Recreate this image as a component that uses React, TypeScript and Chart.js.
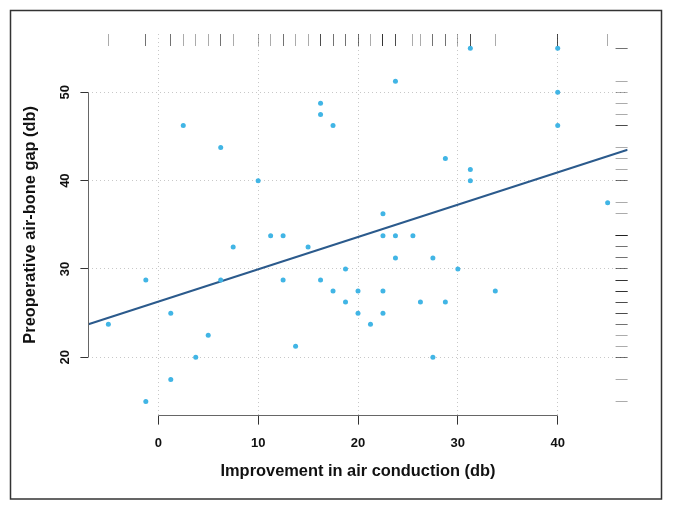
import React, { useEffect, useRef } from "react";
import { Chart, registerables } from "chart.js";

Chart.register(...registerables);

// Data
const improvement = [
  -5, -1.25, -1.25, 1.25, 1.25, 2.5, 3.75, 5, 6.25, 6.25, 7.5, 10, 11.25, 12.5, 12.5, 13.75, 15,
  16.25, 16.25, 16.25, 17.5, 17.5, 18.75, 18.75, 20, 20, 21.25, 22.5, 22.5, 22.5, 22.5, 23.75,
  23.75, 23.75, 25.5, 26.25, 27.5, 27.5, 28.75, 28.75, 30, 31.25, 31.25, 31.25, 33.75, 40, 40,
  40, 45,
];
const preopGap = [
  23.75, 28.75, 15, 25, 17.5, 46.25, 20, 22.5, 43.75, 28.75, 32.5, 40, 33.75, 33.75, 28.75, 21.25,
  32.5, 48.75, 47.5, 28.75, 46.25, 27.5, 30, 26.25, 27.5, 25, 23.75, 36.25, 33.75, 27.5, 25, 51.25,
  33.75, 31.25, 33.75, 26.25, 31.25, 20, 42.5, 26.25, 30, 41.25, 40, 55, 27.5, 55, 50, 46.25, 37.5,
];
const xTickValues = [0, 10, 20, 30, 40];
const yTickValues = [20, 30, 40, 50];
const xRange = [-7, 47];
const yRange = [13.4, 56.6];
const fitIntercept = 26.31;
const fitSlope = 0.3657;
const xTitle = "Improvement in air conduction (db)";
const yTitle = "Preoperative air-bone gap (db)";

const FONT = "'Liberation Sans', Arial, Helvetica, sans-serif";

const alignPx = (v: number) => Math.round(v - 0.5) + 0.5;

const framePlugin = {
  id: "frame",
  beforeDraw(chart: any) {
    const ctx = chart.ctx;
    ctx.save();
    ctx.fillStyle = "#ffffff";
    ctx.fillRect(0, 0, chart.width, chart.height);
    ctx.strokeStyle = "#333333";
    ctx.lineWidth = 1.5;
    ctx.strokeRect(10.5, 10.5, 651, 488.5);
    ctx.restore();
  },
};

const axesRugPlugin = {
  id: "axesRug",
  afterDatasetsDraw(chart: any) {
    const ctx = chart.ctx;
    const xs = chart.scales.x;
    const ys = chart.scales.y;
    const area = chart.chartArea;
    ctx.save();
    // R-style axis lines spanning first to last tick
    ctx.strokeStyle = "#666666";
    ctx.lineWidth = 1;
    const by = alignPx(area.bottom);
    ctx.beginPath();
    ctx.moveTo(xs.getPixelForValue(xTickValues[0]), by);
    ctx.lineTo(xs.getPixelForValue(xTickValues[xTickValues.length - 1]), by);
    ctx.stroke();
    const lx = alignPx(area.left);
    ctx.beginPath();
    ctx.moveTo(lx, ys.getPixelForValue(yTickValues[0]));
    ctx.lineTo(lx, ys.getPixelForValue(yTickValues[yTickValues.length - 1]));
    ctx.stroke();
    // rugs
    ctx.strokeStyle = "rgba(0,0,0,0.33)";
    ctx.lineWidth = 1;
    const rugLen = 12;
    improvement.forEach((v) => {
      const px = alignPx(xs.getPixelForValue(v));
      ctx.beginPath();
      ctx.moveTo(px, area.top);
      ctx.lineTo(px, area.top + rugLen);
      ctx.stroke();
    });
    preopGap.forEach((v) => {
      const py = alignPx(ys.getPixelForValue(v));
      ctx.beginPath();
      ctx.moveTo(area.right - rugLen, py);
      ctx.lineTo(area.right, py);
      ctx.stroke();
    });
    ctx.restore();
  },
};

export default function App() {
  const canvasRef = useRef<HTMLCanvasElement | null>(null);

  useEffect(() => {
    if (!canvasRef.current) return;
    const points = improvement.map((x, i) => ({ x, y: preopGap[i] }));
    const fitLine = xRange.map((x) => ({ x, y: fitIntercept + fitSlope * x }));
    const chart = new Chart(canvasRef.current, {
      type: "scatter",
      data: {
        datasets: [
          {
            type: "line",
            data: fitLine,
            borderColor: "#2b5a8c",
            borderWidth: 2,
            pointRadius: 0,
            fill: false,
            order: 1,
          } as any,
          {
            data: points,
            backgroundColor: "#41b5e5",
            borderWidth: 0,
            pointRadius: 2.5,
            order: 0,
          },
        ],
      },
      options: {
        animation: false,
        responsive: false,
        devicePixelRatio: 1,
        events: [],
        font: { family: FONT },
        layout: { padding: { left: 0, top: 34, right: 45.4, bottom: 0 } },
        plugins: { legend: { display: false }, tooltip: { enabled: false } },
        scales: {
          x: {
            type: "linear",
            position: "bottom",
            min: xRange[0],
            max: xRange[1],
            afterBuildTicks: (s: any) => {
              s.ticks = xTickValues.map((v) => ({ value: v }));
            },
            afterFit: (s: any) => {
              s.height = 95.4;
            },
            grid: {
              color: "#c8c8c8",
              lineWidth: 1,
              tickLength: 9,
              tickColor: "#333333",
              tickWidth: 1,
              tickBorderDash: [],
            } as any,
            border: { display: false, dash: [1, 3] },
            ticks: {
              color: "#111111",
              font: { family: FONT, size: 13, weight: "bold" },
              padding: 10.6,
              minRotation: 0,
              maxRotation: 0,
              autoSkip: false,
            },
            title: {
              display: true,
              text: xTitle,
              color: "#111111",
              font: { family: FONT, size: 16.4, weight: "bold" },
              padding: { top: 0, bottom: 30 },
            },
          },
          y: {
            type: "linear",
            position: "left",
            min: yRange[0],
            max: yRange[1],
            afterBuildTicks: (s: any) => {
              s.ticks = yTickValues.map((v) => ({ value: v }));
            },
            afterFit: (s: any) => {
              s.width = 88.4;
            },
            grid: {
              color: "#c8c8c8",
              lineWidth: 1,
              tickLength: 8,
              tickColor: "#333333",
              tickWidth: 1,
              tickBorderDash: [],
            } as any,
            border: { display: false, dash: [1, 3] },
            ticks: {
              color: "#111111",
              font: { family: FONT, size: 13, weight: "bold" },
              padding: 8.2,
              minRotation: 90,
              maxRotation: 90,
              crossAlign: "center",
              autoSkip: false,
            },
            title: {
              display: true,
              text: yTitle,
              color: "#111111",
              font: { family: FONT, size: 16.4, weight: "bold" },
              padding: { top: 21, bottom: 0 },
            },
          },
        },
      } as any,
      plugins: [framePlugin, axesRugPlugin],
    });
    return () => chart.destroy();
  }, []);

  return (
    <div style={{ position: "absolute", left: 0, top: 0, width: 673, height: 511 }}>
      <canvas ref={canvasRef} width={673} height={511} style={{ display: "block" }} />
    </div>
  );
}
